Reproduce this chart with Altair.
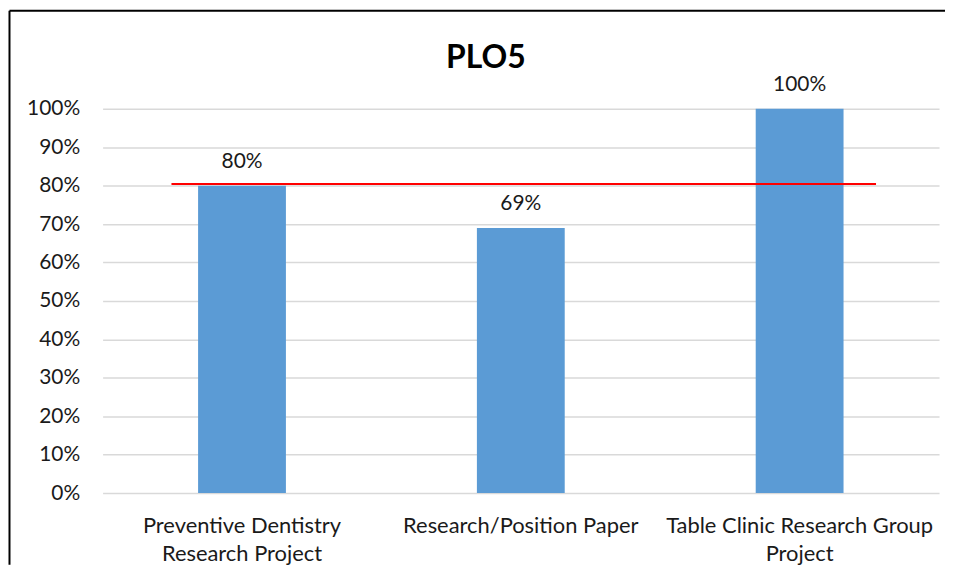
import altair as alt
import pandas as pd

categories = ["Preventive Dentistry Research Project", "Research/Position Paper", "Table Clinic Research Group Project"]
label_lines = [["Preventive Dentistry", "Research Project"], ["Research/Position Paper"], ["Table Clinic Research Group", "Project"]]
values = [0.80, 0.69, 1.00]
target_value = 0.804
target_span = [0.247, 2.774]  # in category-index units (0..3)
y_ticks = [0.0, 0.1, 0.2, 0.3, 0.4, 0.5, 0.6, 0.7, 0.8, 0.9, 1.0]
title_text = "PLO5"

FONT = "Lato"

df = pd.DataFrame({"cat": categories, "val": values})
tdf = pd.DataFrame({"x": [target_span[0]], "x2": [target_span[1]], "y": [target_value]})
ttl = pd.DataFrame({"t": [title_text]})

expr = "datum.label"
for c, lines in reversed(list(zip(categories, label_lines))):
    arr = "[" + ",".join("'" + l + "'" for l in lines) + "]"
    expr = f"datum.label == '{c}' ? {arr} : ({expr})"

xscale = alt.Scale(domain=categories, paddingInner=0.685, paddingOuter=0.3425)
yscale = alt.Scale(domain=[0, 1], nice=False)
yaxis = alt.Axis(values=y_ticks, format=".0%", labelFont=FONT,
                 labelFontSize=21, labelColor="#1a1a1a", labelPadding=23,
                 ticks=False, domain=False, gridColor="#D9D9D9", gridWidth=1.5)

base = alt.Chart(df)

bars = base.mark_bar(color="#5B9BD5").encode(
    x=alt.X("cat:N", scale=xscale, sort=categories, title=None,
            axis=alt.Axis(labelExpr=expr, labelAngle=0, labelFont=FONT, labelFontSize=22,
                          labelColor="#1a1a1a", labelLimit=0, labelLineHeight=28,
                          labelPadding=23, ticks=False, domain=False, grid=False,
                          labelBaseline="top")),
    y=alt.Y("val:Q", scale=yscale, title=None, axis=yaxis),
)

texts = base.mark_text(font=FONT, fontSize=21, color="#1a1a1a", baseline="alphabetic", dy=-18).encode(
    x=alt.X("cat:N", scale=xscale, sort=categories, axis=None),
    y=alt.Y("val:Q", scale=yscale, title=None, axis=yaxis),
    text=alt.Text("val:Q", format=".0%"),
)

target = alt.Chart(tdf).mark_rule(color="#FF0000", strokeWidth=2).encode(
    x=alt.X("x:Q", scale=alt.Scale(domain=[0, 3], nice=False), axis=None),
    x2="x2:Q",
    y=alt.Y("y:Q", scale=yscale, title=None, axis=yaxis),
)

title = alt.Chart(ttl).mark_text(font=FONT, fontSize=32, fontWeight="bold", color="#000000",
                                 baseline="alphabetic", align="center").encode(
    x=alt.value(385), y=alt.value(-41), text="t:N"
)

frame_top = alt.Chart(ttl).mark_rule(color="#000000", strokeWidth=2).encode(
    x=alt.value(-93.5), x2=alt.value(846), y=alt.value(-98.5)
)
frame_left = alt.Chart(ttl).mark_rule(color="#000000", strokeWidth=2).encode(
    x=alt.value(-93.5), y=alt.value(-98.5), y2=alt.value(458)
)

chart = alt.layer(bars, texts, target, title, frame_top, frame_left).resolve_scale(x="independent").properties(
    width=840, height=386, padding=0, background="white",
).configure_view(stroke=None)

chart.save("out.html", embed_options={"renderer": "svg", "actions": False})
